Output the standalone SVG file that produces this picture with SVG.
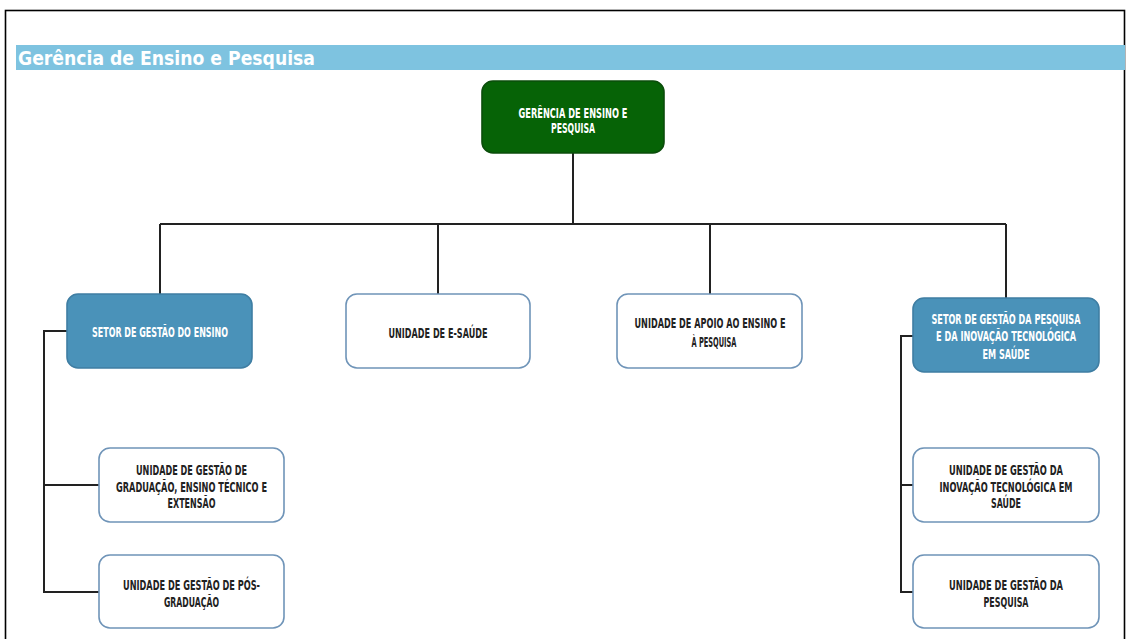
<svg xmlns="http://www.w3.org/2000/svg" width="1131" height="639" viewBox="0 0 1131 639">
<style>
.lbl{font-family:"DejaVu Sans Condensed","DejaVu Sans",sans-serif;font-stretch:condensed;font-weight:bold;font-size:13.5px;text-anchor:middle}
.dk{fill:#222}
.wt{fill:#fff}
.wbox{fill:#fff;stroke:#6f94b8;stroke-width:1.6}
.bbox{fill:#4a92b9;stroke:#3f7ea3;stroke-width:1.6}
.gbox{fill:#066306;stroke:#0b4d0b;stroke-width:1.6}
.con{fill:none;stroke:#222;stroke-width:2}
</style>
<rect x="0" y="0" width="1131" height="639" fill="#fff"/>
<rect x="5.5" y="10.5" width="1119" height="640" fill="none" stroke="#000" stroke-width="1.6"/>
<rect x="16" y="45" width="1109" height="25" fill="#7ec3e0"/>
<text x="18" y="65" font-family="'DejaVu Sans','Liberation Sans',sans-serif" font-weight="bold" font-size="20" fill="#fff" textLength="297" lengthAdjust="spacingAndGlyphs">Gerência de Ensino e Pesquisa</text>

<g id="connectors">
<path class="con" d="M573 153 V224 M160 224 H1006 M160 224 V294 M438 224 V294 M710 224 V294 M1006 224 V298"/>
<path class="con" d="M67 331 H44 V592 H99 M44 485 H99"/>
<path class="con" d="M913 336 H901 V592 H913 M901 485 H913"/>
</g>

<g id="n-gerencia">
<rect class="gbox" x="482" y="81" width="182" height="72" rx="11"/>
<text class="lbl wt" x="573" y="118" textLength="109" lengthAdjust="spacingAndGlyphs">GERÊNCIA DE ENSINO E</text>
<text class="lbl wt" x="573" y="133" textLength="44" lengthAdjust="spacingAndGlyphs">PESQUISA</text>
</g>

<g id="n-setor-ensino">
<rect class="bbox" x="67" y="294" width="185" height="74" rx="11"/>
<text class="lbl wt" x="160" y="337" textLength="136" lengthAdjust="spacingAndGlyphs">SETOR DE GESTÃO DO ENSINO</text>
</g>

<g id="n-esaude">
<rect class="wbox" x="346" y="294" width="184" height="74" rx="11"/>
<text class="lbl dk" x="438" y="338" textLength="99" lengthAdjust="spacingAndGlyphs">UNIDADE DE E-SAÚDE</text>
</g>

<g id="n-apoio">
<rect class="wbox" x="617" y="294" width="185" height="74" rx="11"/>
<text class="lbl dk" x="710" y="328" textLength="151" lengthAdjust="spacingAndGlyphs">UNIDADE DE APOIO AO ENSINO E</text>
<text class="lbl dk" x="714" y="347" textLength="45" lengthAdjust="spacingAndGlyphs">À PESQUISA</text>
</g>

<g id="n-setor-pesquisa">
<rect class="bbox" x="913" y="298" width="186" height="74" rx="11"/>
<text class="lbl wt" x="1006" y="324" textLength="149" lengthAdjust="spacingAndGlyphs">SETOR DE GESTÃO DA PESQUISA</text>
<text class="lbl wt" x="1006" y="341" textLength="140" lengthAdjust="spacingAndGlyphs">E DA INOVAÇÃO TECNOLÓGICA</text>
<text class="lbl wt" x="1006" y="359" textLength="47" lengthAdjust="spacingAndGlyphs">EM SAÚDE</text>
</g>

<g id="n-graduacao">
<rect class="wbox" x="99" y="448" width="185" height="74" rx="11"/>
<text class="lbl dk" x="191.5" y="475" textLength="111" lengthAdjust="spacingAndGlyphs">UNIDADE DE GESTÃO DE</text>
<text class="lbl dk" x="191.5" y="492" textLength="151" lengthAdjust="spacingAndGlyphs">GRADUAÇÃO, ENSINO TÉCNICO E</text>
<text class="lbl dk" x="191.5" y="508" textLength="48" lengthAdjust="spacingAndGlyphs">EXTENSÃO</text>
</g>

<g id="n-posgraduacao">
<rect class="wbox" x="99" y="555" width="185" height="73" rx="11"/>
<text class="lbl dk" x="191.5" y="590" textLength="137" lengthAdjust="spacingAndGlyphs">UNIDADE DE GESTÃO DE PÓS-</text>
<text class="lbl dk" x="191.5" y="607" textLength="55" lengthAdjust="spacingAndGlyphs">GRADUAÇÃO</text>
</g>

<g id="n-inovacao">
<rect class="wbox" x="913" y="448" width="186" height="74" rx="11"/>
<text class="lbl dk" x="1006" y="475" textLength="114" lengthAdjust="spacingAndGlyphs">UNIDADE DE GESTÃO DA</text>
<text class="lbl dk" x="1006" y="492" textLength="133" lengthAdjust="spacingAndGlyphs">INOVAÇÃO TECNOLÓGICA EM</text>
<text class="lbl dk" x="1006" y="508" textLength="30" lengthAdjust="spacingAndGlyphs">SAÚDE</text>
</g>

<g id="n-pesquisa">
<rect class="wbox" x="913" y="555" width="186" height="73" rx="11"/>
<text class="lbl dk" x="1006" y="590" textLength="114" lengthAdjust="spacingAndGlyphs">UNIDADE DE GESTÃO DA</text>
<text class="lbl dk" x="1006" y="607" textLength="45" lengthAdjust="spacingAndGlyphs">PESQUISA</text>
</g>
</svg>
